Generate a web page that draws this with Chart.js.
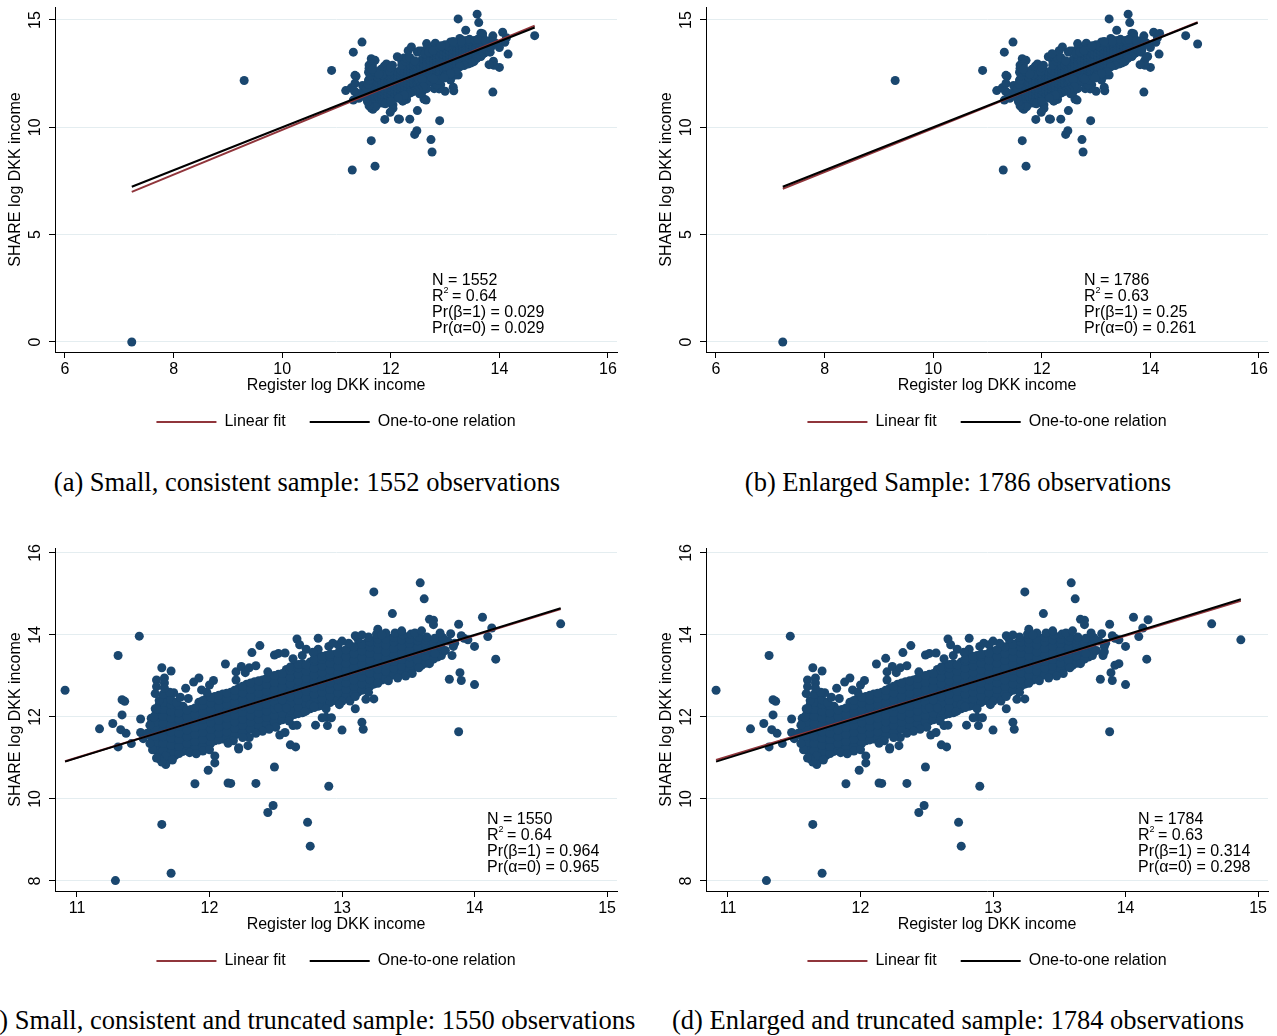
<!DOCTYPE html>
<html>
<head>
<meta charset="utf-8">
<script src="https://cdn.jsdelivr.net/npm/chart.js@4.4.1/dist/chart.umd.min.js"></script>
<style>
  body { margin: 0; background: #fff; width: 1277px; height: 1036px; overflow: hidden; position: relative; }
  canvas { position: absolute; }
  .cap { position: absolute; transform: translateX(-50%); white-space: nowrap; font: 26.5px "Liberation Serif", "Times New Roman", serif; line-height: 30px; color: #000; }
</style>
</head>
<body>
<canvas id="panelA" width="640" height="440" style="left:0;top:0"></canvas>
<canvas id="panelB" width="640" height="440" style="left:651px;top:0"></canvas>
<canvas id="panelC" width="640" height="439" style="left:0;top:540px"></canvas>
<canvas id="panelD" width="640" height="439" style="left:651px;top:540px"></canvas>
<div class="cap" id="capA" style="left:307px;top:467px"></div>
<div class="cap" id="capB" style="left:958px;top:467px"></div>
<div class="cap" id="capC" style="left:307px;top:1005px"></div>
<div class="cap" id="capD" style="left:958px;top:1005px"></div>
<script>
// ---- data (log DKK income: register x, SHARE y) ----

// dense core of the cloud, by column: [register, [share values]]
const coreCols = [
  [11.56, [11.36, 11.52, 11.68, 11.84, 11.97]],
  [11.62, [11.12, 11.28, 11.45, 11.6, 11.78, 11.95, 12.12, 12.3]],
  [11.68, [10.96, 11.1, 11.27, 11.42, 11.58, 11.76, 11.92, 12.1, 12.26, 12.44]],
  [11.74, [11.06, 11.22, 11.4, 11.55, 11.72, 11.88, 12.05, 12.2, 12.36]],
  [11.80, [11.16, 11.33, 11.5, 11.66, 11.83, 12.0, 12.15, 12.26]],
  [11.86, [11.2, 11.38, 11.55, 11.7, 11.86, 12.02, 12.18]],
  [11.92, [11.26, 11.42, 11.6, 11.77, 11.94, 12.1, 12.25, 12.36]],
  [11.98, [11.3, 11.47, 11.64, 11.8, 11.96, 12.13, 12.3, 12.45]],
  [12.04, [11.42, 11.58, 11.74, 11.9, 12.06, 12.22, 12.38, 12.5]],
  [12.10, [11.46, 11.62, 11.78, 11.95, 12.12, 12.28, 12.44, 12.56]],
  [12.16, [11.5, 11.67, 11.84, 12.0, 12.17, 12.33, 12.48, 12.6]],
  [12.22, [11.6, 11.76, 11.92, 12.08, 12.24, 12.4, 12.56, 12.7]],
  [12.28, [11.66, 11.82, 11.98, 12.14, 12.3, 12.46, 12.62, 12.8]],
  [12.34, [11.76, 11.92, 12.08, 12.24, 12.4, 12.56, 12.72, 12.86]],
  [12.40, [11.8, 11.96, 12.12, 12.28, 12.44, 12.6, 12.76, 12.9]],
  [12.46, [11.86, 12.02, 12.18, 12.34, 12.5, 12.66, 12.82, 12.98]],
  [12.52, [11.9, 12.06, 12.22, 12.38, 12.54, 12.7, 12.86, 13.04]],
  [12.58, [11.96, 12.12, 12.28, 12.44, 12.6, 12.76, 12.92, 13.08, 13.16]],
  [12.64, [12.06, 12.22, 12.38, 12.54, 12.7, 12.86, 13.02, 13.18, 13.26]],
  [12.70, [12.1, 12.26, 12.42, 12.58, 12.74, 12.9, 13.06, 13.22, 13.3]],
  [12.76, [12.2, 12.36, 12.52, 12.68, 12.84, 13.0, 13.16, 13.34]],
  [12.82, [12.26, 12.42, 12.58, 12.74, 12.9, 13.06, 13.22, 13.38, 13.46]],
  [12.88, [12.3, 12.46, 12.62, 12.78, 12.94, 13.1, 13.26, 13.42, 13.5]],
  [12.94, [12.4, 12.56, 12.72, 12.88, 13.04, 13.2, 13.36, 13.52]],
  [13.00, [12.46, 12.62, 12.78, 12.94, 13.1, 13.26, 13.42, 13.6]],
  [13.06, [12.56, 12.72, 12.88, 13.04, 13.2, 13.36, 13.52, 13.68]],
  [13.12, [12.6, 12.76, 12.92, 13.08, 13.24, 13.4, 13.56, 13.74]],
  [13.18, [12.7, 12.86, 13.02, 13.18, 13.34, 13.5, 13.66, 13.8]],
  [13.24, [12.8, 12.96, 13.12, 13.28, 13.44, 13.6, 13.76, 13.86]],
  [13.30, [12.9, 13.06, 13.22, 13.38, 13.54, 13.7, 13.88]],
  [13.36, [13.0, 13.16, 13.32, 13.48, 13.64, 13.8, 13.92]],
  [13.42, [13.06, 13.22, 13.38, 13.54, 13.7, 13.86, 13.96]],
  [13.48, [13.1, 13.26, 13.42, 13.58, 13.74, 13.9]],
  [13.54, [13.2, 13.36, 13.52, 13.68, 13.84]],
  [13.60, [13.26, 13.42, 13.58, 13.74, 13.86]],
  [13.66, [13.36, 13.52, 13.68, 13.84]],
  [13.72, [13.46, 13.62, 13.78]]
];

// the same core, columns in between
const coreColsMid = [
  [11.59, [11.2, 11.37, 11.53, 11.7, 11.87, 12.04, 12.2]],
  [11.65, [11.03, 11.19, 11.36, 11.52, 11.68, 11.85, 12.01, 12.18, 12.36]],
  [11.71, [11.0, 11.14, 11.31, 11.48, 11.64, 11.8, 11.97, 12.13, 12.3, 12.42]],
  [11.77, [11.11, 11.28, 11.45, 11.61, 11.78, 11.94, 12.1, 12.28]],
  [11.83, [11.18, 11.35, 11.52, 11.68, 11.85, 12.01, 12.17]],
  [11.89, [11.23, 11.4, 11.57, 11.74, 11.9, 12.06, 12.22]],
  [11.95, [11.28, 11.45, 11.62, 11.79, 11.95, 12.12, 12.28, 12.4]],
  [12.01, [11.36, 11.53, 11.7, 11.86, 12.02, 12.18, 12.34, 12.48]],
  [12.07, [11.44, 11.6, 11.76, 11.92, 12.09, 12.25, 12.41, 12.53]],
  [12.13, [11.48, 11.64, 11.81, 11.97, 12.14, 12.3, 12.46, 12.58]],
  [12.19, [11.55, 11.72, 11.88, 12.04, 12.2, 12.36, 12.52, 12.65]],
  [12.25, [11.63, 11.79, 11.95, 12.11, 12.27, 12.43, 12.59, 12.75]],
  [12.31, [11.71, 11.87, 12.03, 12.19, 12.35, 12.51, 12.67, 12.83]],
  [12.37, [11.78, 11.94, 12.1, 12.26, 12.42, 12.58, 12.74, 12.88]],
  [12.43, [11.83, 11.99, 12.15, 12.31, 12.47, 12.63, 12.79, 12.94]],
  [12.49, [11.88, 12.04, 12.2, 12.36, 12.52, 12.68, 12.84, 13.01]],
  [12.55, [11.93, 12.09, 12.25, 12.41, 12.57, 12.73, 12.89, 13.06]],
  [12.61, [12.01, 12.17, 12.33, 12.49, 12.65, 12.81, 12.97, 13.13, 13.22]],
  [12.67, [12.08, 12.24, 12.4, 12.56, 12.72, 12.88, 13.04, 13.2, 13.28]],
  [12.73, [12.15, 12.31, 12.47, 12.63, 12.79, 12.95, 13.11, 13.27]],
  [12.79, [12.23, 12.39, 12.55, 12.71, 12.87, 13.03, 13.19, 13.36, 13.42]],
  [12.85, [12.28, 12.44, 12.6, 12.76, 12.92, 13.08, 13.24, 13.4, 13.48]],
  [12.91, [12.35, 12.51, 12.67, 12.83, 12.99, 13.15, 13.31, 13.47, 13.53]],
  [12.97, [12.43, 12.59, 12.75, 12.91, 13.07, 13.23, 13.39, 13.56]],
  [13.03, [12.51, 12.67, 12.83, 12.99, 13.15, 13.31, 13.47, 13.64]],
  [13.09, [12.58, 12.74, 12.9, 13.06, 13.22, 13.38, 13.54, 13.71]],
  [13.15, [12.65, 12.81, 12.97, 13.13, 13.29, 13.45, 13.61, 13.77]],
  [13.21, [12.75, 12.91, 13.07, 13.23, 13.39, 13.55, 13.71, 13.83]],
  [13.27, [12.85, 13.01, 13.17, 13.33, 13.49, 13.65, 13.81, 13.9]],
  [13.33, [12.95, 13.11, 13.27, 13.43, 13.59, 13.75, 13.9]],
  [13.39, [13.03, 13.19, 13.35, 13.51, 13.67, 13.83, 13.94]],
  [13.45, [13.08, 13.24, 13.4, 13.56, 13.72, 13.88]],
  [13.51, [13.15, 13.31, 13.47, 13.63, 13.79, 13.9]],
  [13.57, [13.23, 13.39, 13.55, 13.71, 13.86]],
  [13.63, [13.31, 13.47, 13.63, 13.79, 13.88]],
  [13.69, [13.41, 13.57, 13.73, 13.84]],
  [13.75, [13.5, 13.66, 13.8]]
];

// scattered points on the rim of the cloud
const rimPts = [
  [10.91, 12.65], [11.17, 11.71], [11.27, 11.84], [11.31, 13.5], [11.47, 13.97], [11.34, 12.42],
  [11.36, 12.38], [11.34, 12.05], [11.33, 11.69], [11.37, 11.6], [11.31, 11.27], [11.41, 11.35],
  [11.48, 11.95], [11.48, 11.62], [11.5, 11.47], [11.64, 13.2], [11.71, 13.12], [11.6, 12.9],
  [11.66, 12.95], [11.66, 12.83], [11.6, 12.74], [11.59, 12.57], [11.73, 12.59], [11.82, 12.7],
  [11.88, 12.85], [11.92, 12.95], [11.94, 12.66], [12.03, 12.89], [12.12, 13.29], [12.2, 13.1],
  [12.24, 13.23], [12.2, 12.9], [11.75, 12.35], [11.84, 12.45], [11.98, 12.6], [12.0, 12.78],
  [12.27, 13.08], [12.32, 13.57], [12.38, 13.74], [12.3, 13.2], [12.35, 13.25], [12.44, 13.1],
  [12.49, 13.51], [12.52, 13.55], [12.57, 13.56], [12.66, 13.9], [12.68, 13.76], [12.73, 13.65],
  [12.82, 13.92], [12.82, 13.65], [12.63, 13.42], [12.7, 13.5], [12.78, 13.58], [12.9, 13.72],
  [12.97, 13.76], [13.05, 13.8], [13.12, 13.9], [13.2, 13.95], [13.26, 14.02], [13.33, 14.05],
  [13.4, 14.05], [13.46, 14.0], [13.52, 14.02], [13.58, 13.95], [13.64, 13.95], [13.7, 13.92],
  [13.76, 13.93], [13.8, 13.85], [13.74, 13.72], [13.78, 13.62], [13.7, 13.55], [13.66, 13.3],
  [13.58, 13.2], [13.53, 13.06], [13.48, 13.0], [13.42, 12.95], [13.35, 12.88], [13.27, 12.82],
  [13.24, 12.44], [13.18, 12.43], [13.1, 12.2], [13.15, 11.87], [13.16, 11.7], [13.0, 11.68],
  [13.06, 12.39], [13.0, 12.38], [12.88, 11.99], [12.92, 11.98], [12.89, 11.79], [12.8, 11.8],
  [12.85, 11.98], [12.88, 12.2], [12.72, 12.13], [12.76, 12.3], [12.79, 12.25], [12.52, 12.22],
  [12.58, 12.22], [12.61, 11.32], [12.65, 11.27], [12.53, 11.56], [12.57, 11.62], [12.63, 11.79],
  [12.66, 11.8], [12.6, 11.9], [12.5, 11.75], [12.45, 11.7], [12.4, 11.65], [12.35, 11.6],
  [12.29, 11.3], [12.22, 11.25], [12.18, 11.42], [12.22, 11.22], [12.3, 11.5], [12.25, 11.5],
  [12.14, 11.36], [12.04, 11.05], [12.04, 10.88], [11.99, 10.7], [11.85, 11.13], [11.95, 11.17],
  [11.9, 11.1], [12.0, 11.2], [11.67, 11.05], [11.67, 10.84], [11.62, 10.98], [11.64, 10.9],
  [11.72, 10.95], [11.6, 11.0], [11.57, 11.2], [11.55, 11.35], [11.53, 11.6], [11.55, 11.8],
  [11.58, 12.0], [11.6, 12.2], [11.62, 12.4], [11.65, 12.55], [11.7, 12.6], [11.78, 12.48],
  [11.66, 12.7], [13.2, 12.6], [13.1, 12.5], [12.98, 12.3]
];

// upper right of the cloud
const upperPts = [
  [14.65, 14.27], [14.16, 13.41], [14.1, 13.96], [14.06, 14.43], [14.13, 14.17], [14.0, 13.72],
  [14.0, 12.79], [13.9, 12.89], [13.89, 13.08], [13.81, 12.92], [13.88, 14.26], [13.59, 15.27],
  [13.62, 14.88], [13.24, 15.05], [13.38, 14.52], [13.66, 14.38], [13.69, 14.36], [13.69, 14.25],
  [13.27, 14.14], [13.92, 13.92], [13.83, 13.5], [13.76, 13.93], [13.82, 14.03], [13.84, 13.72],
  [13.85, 13.8], [13.9, 13.98], [13.95, 13.88], [13.45, 14.1], [13.3, 14.0], [13.1, 13.98],
  [13.0, 13.85], [12.93, 13.8], [13.15, 14.0], [13.55, 14.05], [13.6, 14.1], [13.74, 14.05]
];

// isolated low points
const lowPts = [
  [11.64, 9.38], [11.29, 8.01], [11.71, 8.19], [11.89, 10.37], [12.14, 10.39], [12.16, 10.38],
  [12.35, 10.38], [12.49, 10.78], [12.44, 9.67], [12.48, 9.84], [12.74, 9.43], [12.76, 8.85],
  [12.9, 10.31], [13.88, 11.64]
];

// dropped by truncation (only in a, b)
const truncatedPts = [[7.23, 0.0], [9.3, 12.18]];
// extra observations of the enlarged sample (b, d)
const enlargedPts = [[14.87, 13.88], [14.17, 14.37], [13.92, 13.26], [13.84, 13.59], [12.19, 13.43], [13.95, 13.3]];

// fitted lines [x, y] end points
const fitA = [[7.23, 6.99], [14.65, 14.73]];
const fitB = [[7.23, 7.14], [14.87, 14.9]];
const fitC = [[10.91, 10.92], [14.65, 14.63]];
const fitD = [[10.91, 10.95], [14.87, 14.83]];
const oneA = [[7.23, 7.23], [14.65, 14.65]];
const oneB = [[7.23, 7.23], [14.87, 14.87]];
const oneC = [[10.91, 10.91], [14.65, 14.65]];
const oneD = [[10.91, 10.91], [14.87, 14.87]];

// axes
const xTicksFull = [6, 8, 10, 12, 14, 16];
const yTicksFull = [0, 5, 10, 15];
const xTicksTrunc = [11, 12, 13, 14, 15];
const yTicksTrunc = [8, 10, 12, 14, 16];

// stats box
const statN = ['1552', '1786', '1550', '1784'];
const statR2 = ['0.64', '0.63', '0.64', '0.63'];
const statBeta = ['0.029', '0.25', '0.964', '0.314'];
const statAlpha = ['0.029', '0.261', '0.965', '0.298'];

const captions = [
  '(a) Small, consistent sample: 1552 observations',
  '(b) Enlarged Sample: 1786 observations',
  '(c) Small, consistent and truncated sample: 1550 observations',
  '(d) Enlarged and truncated sample: 1784 observations'
];
const legendNames = ['Linear fit', 'One-to-one relation'];

// ---- build ----
const NAVY = '#1a476f';
const MAROON = '#90353b';
Chart.defaults.font.family = '"Liberation Sans", Arial, sans-serif';
Chart.defaults.font.size = 16;
Chart.defaults.color = '#000';

const corePts = [];
coreCols.concat(coreColsMid).forEach(c => c[1].forEach(y => corePts.push([c[0], y])));
const truncSample = corePts.concat(rimPts, upperPts, lowPts);

const toXY = arr => arr.map(p => ({ x: p[0], y: p[1] }));

// rotated y tick labels (bottom-to-top, like Stata)
const yLabelPlugin = {
  id: 'yLabels',
  afterDraw(chart) {
    const s = chart.scales.y;
    const ctx = chart.ctx;
    ctx.save();
    ctx.fillStyle = '#000';
    ctx.font = '16px "Liberation Sans", Arial, sans-serif';
    ctx.textAlign = 'center';
    ctx.textBaseline = 'middle';
    s.ticks.forEach(t => {
      ctx.save();
      ctx.translate(s.right - 20, s.getPixelForValue(t.value));
      ctx.rotate(-Math.PI / 2);
      ctx.fillText(String(t.value), 0, 1);
      ctx.restore();
    });
    ctx.restore();
  }
};

// N / R2 / p-value text in the lower right
const statsPlugin = {
  id: 'stats',
  afterDatasetsDraw(chart, args, opts) {
    const ctx = chart.ctx;
    const a = chart.chartArea;
    const i = opts.idx;
    const x0 = a.right - opts.fromRight;
    const font = '16px "Liberation Sans", Arial, sans-serif';
    ctx.save();
    ctx.fillStyle = '#000';
    ctx.textAlign = 'left';
    ctx.textBaseline = 'middle';
    ctx.font = font;
    ctx.fillText('N = ' + statN[i], x0, a.bottom - 71);
    ctx.fillText('R', x0, a.bottom - 55);
    const rw = ctx.measureText('R').width;
    ctx.font = '9px "Liberation Sans", Arial, sans-serif';
    ctx.fillText('2', x0 + rw, a.bottom - 61);
    ctx.font = font;
    ctx.fillText(' = ' + statR2[i], x0 + rw + 4, a.bottom - 55);
    ctx.fillText('Pr(\u03b2=1) = ' + statBeta[i], x0, a.bottom - 39);
    ctx.fillText('Pr(\u03b1=0) = ' + statAlpha[i], x0, a.bottom - 23);
    ctx.restore();
  }
};

function makePanel(id, idx, pts, fit, one, xr, yr, xt, yt, padTop, fromRight) {
  new Chart(document.getElementById(id), {
    type: 'scatter',
    data: {
      datasets: [
        { label: legendNames[1], data: toXY(one), showLine: true, borderColor: '#000', backgroundColor: '#000',
          borderWidth: 2, pointRadius: 0 },
        { label: legendNames[0], data: toXY(fit), showLine: true, borderColor: MAROON, backgroundColor: MAROON,
          borderWidth: 2, pointRadius: 0 },
        { label: 'obs', data: toXY(pts), pointRadius: 4.5, pointBackgroundColor: NAVY, pointBorderWidth: 0,
          borderWidth: 0 }
      ]
    },
    options: {
      responsive: false,
      animation: false,
      events: [],
      layout: { padding: { top: padTop, right: 23, left: 0, bottom: 0 } },
      scales: {
        x: {
          type: 'linear', min: xr[0], max: xr[1],
          afterBuildTicks: s => { s.ticks = xt.map(v => ({ value: v })); },
          afterFit: s => { s.height = 47; },
          ticks: { padding: 2, maxRotation: 0, autoSkip: false, callback: v => String(v) },
          grid: { drawOnChartArea: false, tickColor: '#000', tickLength: 6 },
          border: { color: '#000', width: 1 },
          title: { display: true, text: 'Register log DKK income', padding: { top: 0, bottom: 4 } }
        },
        y: {
          type: 'linear', min: yr[0], max: yr[1],
          afterBuildTicks: s => { s.ticks = yt.map(v => ({ value: v })); },
          afterFit: s => { s.width = 55; },
          ticks: { display: false },
          grid: { color: '#e4edf0', tickColor: '#000', tickLength: 6 },
          border: { color: '#000', width: 1 },
          title: { display: true, text: 'SHARE log DKK income', padding: { top: 6, bottom: 0 } }
        }
      },
      plugins: {
        tooltip: { enabled: false },
        legend: {
          position: 'bottom',
          fullSize: false,
          labels: {
            boxWidth: 60, boxHeight: 2, padding: 15, color: '#000',
            generateLabels: () => [
              { text: legendNames[0] + '\u00a0\u00a0', fillStyle: MAROON, strokeStyle: MAROON, lineWidth: 0, hidden: false, datasetIndex: 1 },
              { text: legendNames[1], fillStyle: '#000', strokeStyle: '#000', lineWidth: 0, hidden: false, datasetIndex: 0 }
            ]
          }
        },
        stats: { idx: idx, fromRight: fromRight }
      }
    },
    plugins: [yLabelPlugin, statsPlugin]
  });
  document.getElementById('cap' + id.slice(-1)).textContent = captions[idx];
}

const fullRangeX = [5.816, 16.166], fullRangeY = [-0.466, 15.605];
const truncRangeX = [10.834, 15.075], truncRangeY = [7.756, 16.12];

makePanel('panelA', 0, truncSample.concat(truncatedPts), fitA, oneA, fullRangeX, fullRangeY, xTicksFull, yTicksFull, 7, 185);
makePanel('panelB', 1, truncSample.concat(truncatedPts, enlargedPts), fitB, oneB, fullRangeX, fullRangeY, xTicksFull, yTicksFull, 7, 184);
makePanel('panelC', 2, truncSample, fitC, oneC, truncRangeX, truncRangeY, xTicksTrunc, yTicksTrunc, 8, 130);
makePanel('panelD', 3, truncSample.concat(enlargedPts), fitD, oneD, truncRangeX, truncRangeY, xTicksTrunc, yTicksTrunc, 8, 130);
</script>
</body>
</html>
